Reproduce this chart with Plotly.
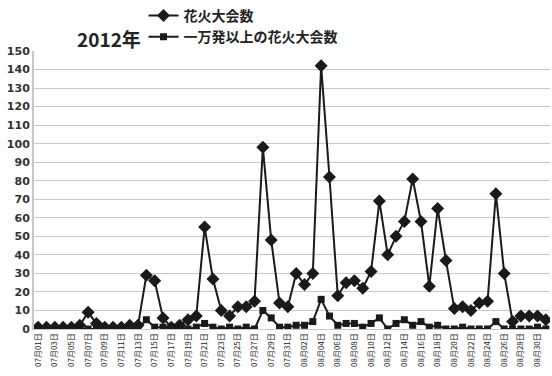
import plotly.graph_objects as go

dates = [f"07月{d:02d}日" for d in range(1, 32)] + [f"08月{d:02d}日" for d in range(1, 32)]

total = [1, 1, 1, 1, 1, 2, 9, 3, 1, 1, 1, 2, 2, 29, 26, 6, 1, 2, 5, 7, 55, 27, 10, 7, 12, 12, 15, 98, 48, 14, 12,
         30, 24, 30, 142, 82, 18, 25, 26, 22, 31, 69, 40, 50, 58, 81, 58, 23, 65, 37, 11, 12, 10, 14, 15, 73, 30, 4, 7, 7, 7, 5]
big = [0, 0, 0, 0, 0, 0, 0, 0, 0, 0, 0, 0, 0, 5, 1, 1, 1, 1, 0, 1, 3, 1, 0, 1, 0, 1, 0, 10, 6, 1, 1,
       2, 2, 4, 16, 7, 2, 3, 3, 1, 3, 6, 0, 3, 5, 2, 4, 1, 2, 0, 0, 1, 0, 0, 0, 4, 0, 0, 0, 0, 1, 0]

series_names = ["花火大会数", "一万発以上の花火大会数"]
yticks = list(range(0, 151, 10))

JP = "Noto Sans CJK JP"
fig = go.Figure()
fig.add_trace(go.Scatter(x=dates, y=total, name=series_names[0], mode="lines+markers",
                         line=dict(color="#1a1a1a", width=2),
                         marker=dict(symbol="diamond", size=10, color="#1a1a1a")))
fig.add_trace(go.Scatter(x=dates, y=big, name=series_names[1], mode="lines+markers",
                         line=dict(color="#1a1a1a", width=2),
                         marker=dict(symbol="square", size=7, color="#1a1a1a")))

fig.update_layout(
    width=552, height=376,
    margin=dict(l=34, r=2, t=51, b=47, autoexpand=False),
    plot_bgcolor="white", paper_bgcolor="white",
    font=dict(family=JP, color="#333333"),
    showlegend=True,
    legend=dict(xref="container", yref="container", x=0.26, y=1.005, xanchor="left", yanchor="top",
                font=dict(family=JP, size=14, color="#222222", weight="bold"),
                tracegroupgap=0, bgcolor="rgba(0,0,0,0)", itemwidth=30),
    annotations=[dict(text="<b>2012年</b>", xref="paper", yref="paper", x=0.08, y=1.0, yshift=-3,
                      xanchor="left", yanchor="bottom", showarrow=False,
                      font=dict(family=JP, size=19, color="#222222"))],
)
fig.update_xaxes(type="category", range=[-0.5, 61.5], tickvals=dates[::2], ticktext=dates[::2],
                 tickangle=-90, tickfont=dict(family=JP, size=8, color="#222222"),
                 showgrid=False, showline=True, linecolor="#c8c8c8", linewidth=1, ticks="")
fig.update_yaxes(range=[0, 150], tickvals=yticks, showgrid=True, gridcolor="#c8c8c8", gridwidth=1,
                 showline=True, linecolor="#c8c8c8", linewidth=2, zeroline=False,
                 tickfont=dict(family="DejaVu Sans", size=11, color="#333333", weight="bold"))

fig.write_html("out.html")
